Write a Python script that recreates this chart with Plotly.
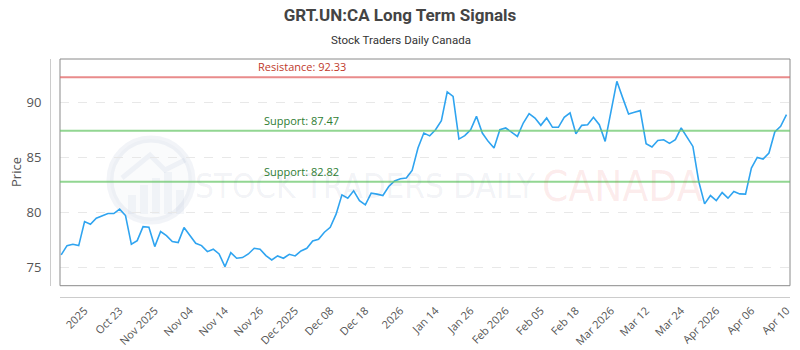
import plotly.graph_objects as go

# ---------------- data ----------------
prices = [
    76.16, 77.01, 77.13, 77.01, 79.20, 78.96, 79.50, 79.75, 79.93, 79.93,
    80.33, 79.75, 77.13, 77.46, 78.74, 78.68, 76.92, 78.29, 77.92, 77.38,
    77.28, 78.65, 77.92, 77.22, 77.01, 76.46, 76.68, 76.25, 75.09, 76.37,
    75.86, 75.92, 76.25, 76.77, 76.68, 76.10, 75.70, 76.07, 75.86, 76.22,
    76.07, 76.52, 76.77, 77.44, 77.59, 78.23, 78.68, 79.87, 81.63, 81.33,
    82.00, 81.11, 80.72, 81.79, 81.70, 81.57, 82.39, 82.90, 83.09, 83.16,
    83.85, 85.89, 87.26, 87.00, 87.56, 88.38, 91.00, 90.60, 86.71, 87.02,
    87.56, 88.78, 87.26, 86.50, 85.89, 87.56, 87.72, 87.35, 86.95, 88.17,
    89.02, 88.63, 87.96, 88.63, 87.78, 87.78, 88.69, 89.09, 87.20, 87.96,
    88.02, 88.69, 88.02, 86.50, 89.39, 91.97, 90.46, 89.00, 89.15, 89.30,
    86.29, 85.99, 86.59, 86.65, 86.32, 86.65, 87.72, 86.90, 86.04, 82.85,
    80.81, 81.57, 81.11, 81.84, 81.33, 81.93, 81.72, 81.70, 84.07, 85.04,
    84.89, 85.44, 87.35, 87.87, 88.93,
]
tick_index = [4, 10, 16, 22, 28, 34, 40, 46, 52, 58, 64,
              70, 76, 82, 88, 94, 100, 106, 112, 118, 124]
tick_labels = ["2025", "Oct 23", "Nov 2025", "Nov 04", "Nov 14", "Nov 26",
               "Dec 2025", "Dec 08", "Dec 18", "2026", "Jan 14", "Jan 26",
               "Feb 2026", "Feb 05", "Feb 18", "Mar 2026", "Mar 12", "Mar 24",
               "Apr 2026", "Apr 06", "Apr 10"]
y_ticks = [75, 80, 85, 90]
resistance = 92.33
supports = [87.47, 82.82]

x_index = list(range(len(prices)))

# ---------------- layout geometry ----------------
W, H = 800, 350
ML, MR, MT, MB = 50, 10, 59, 53
PW, PH = W - ML - MR, H - MT - MB


def px(xp):
    return (xp - ML) / PW


def py(yp):
    return (H - MB - yp) / PH


FONT = "Open Sans, Roboto, sans-serif"
WM_FONT = "Liberation Sans Narrow, DejaVu Sans Condensed, Roboto, sans-serif"

fig = go.Figure()
fig.add_trace(go.Scatter(
    x=x_index, y=prices, mode="lines",
    line=dict(color="#2fa4f0", width=1.6),
    hoverinfo="skip", showlegend=False,
))

shapes = []
annotations = []

# watermark logo
shapes.append(dict(type="circle", xref="paper", yref="paper",
                   x0=px(110), x1=px(192), y0=py(221), y1=py(139),
                   line=dict(color="rgba(90,120,170,0.08)", width=7),
                   fillcolor="rgba(90,120,170,0.03)", layer="below"))
for bx, btop in [(128, 195), (140, 185), (152, 178), (164, 172), (176, 190)]:
    shapes.append(dict(type="rect", xref="paper", yref="paper",
                       x0=px(bx), x1=px(bx + 8), y0=py(214), y1=py(btop),
                       line=dict(width=0), fillcolor="rgba(90,120,170,0.06)",
                       layer="below"))
shapes.append(dict(type="path", xref="paper", yref="paper",
                   path="M %f %f L %f %f L %f %f L %f %f" % (
                       px(122), py(178), px(150), py(155),
                       px(165), py(170), px(185), py(160)),
                   line=dict(color="rgba(90,120,170,0.07)", width=5),
                   layer="below"))
annotations.append(dict(text="STOCK TRADERS DAILY", xref="paper", yref="paper",
                        x=px(365), y=py(186), xanchor="center", yanchor="middle",
                        showarrow=False,
                        font=dict(family=WM_FONT, size=33, weight=300,
                                  color="rgba(70,90,140,0.08)")))
annotations.append(dict(text="CANADA", xref="paper", yref="paper",
                        x=px(622), y=py(186), xanchor="center", yanchor="middle",
                        showarrow=False,
                        font=dict(family=WM_FONT, size=42, weight=300,
                                  color="rgba(230,60,60,0.10)")))

# plot border
shapes.append(dict(type="rect", xref="x domain", yref="y domain",
                   x0=0, x1=1, y0=0, y1=1,
                   line=dict(color="#8a8a8a", width=1), layer="above"))

# resistance / support lines
shapes.append(dict(type="line", xref="x domain", yref="y",
                   x0=0, x1=1, y0=resistance, y1=resistance,
                   line=dict(color="rgba(225,100,100,0.75)", width=2)))
annotations.append(dict(text="Resistance: %.2f" % resistance,
                        xref="x domain", yref="y", x=0.3315, y=resistance,
                        xanchor="center", yanchor="bottom", yshift=1, showarrow=False,
                        font=dict(family=FONT, size=11, color="#c0392b")))
for s in supports:
    shapes.append(dict(type="line", xref="x domain", yref="y",
                       x0=0, x1=1, y0=s, y1=s,
                       line=dict(color="rgba(110,200,110,0.75)", width=2)))
    annotations.append(dict(text="Support: %.2f" % s,
                            xref="x domain", yref="y", x=0.3315, y=s,
                            xanchor="center", yanchor="bottom", yshift=1, showarrow=False,
                            font=dict(family=FONT, size=11, color="#2e7d32")))

# subtitle and y title
annotations.append(dict(text="Stock Traders Daily Canada", xref="paper", yref="paper",
                        x=px(401), y=py(40), xanchor="center", yanchor="middle",
                        showarrow=False,
                        font=dict(family="Roboto, sans-serif", size=11.5, color="#333")))
annotations.append(dict(text="Price", xref="paper", yref="paper",
                        x=px(16), y=py(172), xanchor="center", yanchor="middle",
                        showarrow=False, textangle=-90,
                        font=dict(family=FONT, size=13, color="#555")))

fig.update_layout(
    width=W, height=H,
    margin=dict(l=ML, r=MR, t=MT, b=MB, pad=0, autoexpand=False),
    paper_bgcolor="white", plot_bgcolor="white",
    title=dict(text="<b>GRT.UN:CA Long Term Signals</b>", x=0.5, xanchor="center",
               xref="container", y=1 - 15 / H, yanchor="middle", yref="container",
               font=dict(family="Roboto, sans-serif", size=17, color="#444")),
    xaxis=dict(domain=[px(60), 1], anchor="free", position=0, automargin=False,
               range=[-0.2, 124.6], tickmode="array",
               tickvals=tick_index, ticktext=tick_labels, tickangle=-45,
               showgrid=False, zeroline=False,
               showline=True, linecolor="#cccccc", linewidth=1,
               ticks="", ticklabelstandoff=2,
               tickfont=dict(family=FONT, size=11, color="#555")),
    yaxis=dict(domain=[py(285.7), 1], anchor="free", position=0, automargin=False,
               range=[73.36, 94.0], tickmode="array", tickvals=y_ticks,
               showgrid=True, gridcolor="#e8e8e8", griddash="dash", gridwidth=1,
               zeroline=False, showline=True, linecolor="#cccccc", linewidth=1,
               ticks="", ticklabelstandoff=6,
               tickfont=dict(family=FONT, size=13, color="#555")),
    shapes=shapes,
    annotations=annotations,
)

fig.write_html("out.html")
